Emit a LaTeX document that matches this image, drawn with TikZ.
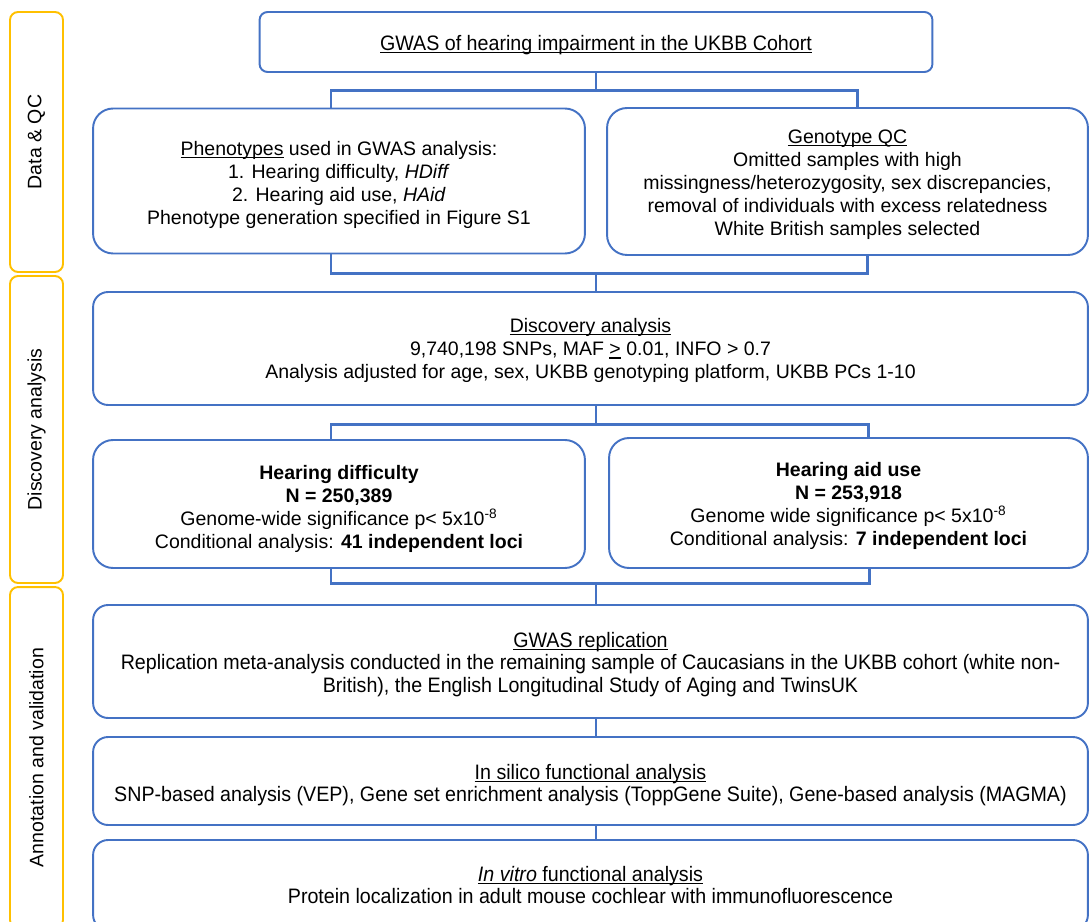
\documentclass[tikz,border=0pt]{standalone}
\usepackage{fontspec}
\setmainfont{Liberation Sans}
\newfontfamily\narrowfont[FakeStretch=0.94]{Liberation Sans}
\usetikzlibrary{positioning}
\definecolor{boxblue}{HTML}{4472C4}
\definecolor{tabgold}{HTML}{FFC000}
\newcommand\ulbase[1]{\setbox0\hbox{#1}\rlap{\rule[-1.6pt]{\wd0}{0.6pt}}\box0\relax}
\newcommand\lift[1]{\rule{0pt}{#1}}

\begin{document}
\begin{tikzpicture}[x=0.02cm,y=-0.02cm,line width=1.1pt]
      \tikzset{
        stage/.style={draw=boxblue,rounded corners=0.4cm,inner sep=0pt,align=center,
            font=\fontsize{11.1}{13.1}\selectfont},
        wide/.style={stage,rounded corners=0.3cm,minimum width=19.9cm},
        narrow/.style={font=\narrowfont\fontsize{11.9}{13}\selectfont},
        tab/.style={draw=tabgold,rounded corners=0.16cm,inner sep=0pt,rotate=90,
            minimum height=1.06cm,font=\fontsize{11.1}{13.1}\selectfont},
        pipe/.style={draw=boxblue,line width=1.7pt}
      }
      \useasboundingbox (0,0) rectangle (1089,922);
      \clip (0,0) rectangle (1089,922);

      \node[tab,minimum width=5.2cm] (tabqc) at (36.5,142) {Data \& QC};
      \node[tab,minimum width=6.14cm] (tabdisc) at (36.5,429.5) {Discovery analysis};
      \node[tab,minimum width=6.82cm] (tabval) at (36.5,757.5) {Annotation and validation};

      \node[stage,narrow,rounded corners=0.16cm,minimum width=13.46cm,minimum height=1.2cm]
        (top) at (596,42) {\lift{12.1pt}\ulbase{GWAS of hearing impairment in the UKBB Cohort}};
      \node[stage,minimum width=9.84cm,minimum height=2.9cm] (phen) at (339,181)
        {\lift{12.2pt}\ulbase{Phenotypes} used in GWAS analysis:\\1. Hearing difficulty, \textit{HDiff}\\
         2. Hearing aid use, \textit{HAid}\\Phenotype generation specified in Figure S1};
      \node[stage,minimum width=9.62cm,minimum height=2.94cm] (geno) at (847.5,181.5)
        {\lift{11.4pt}\ulbase{Genotype QC}\\Omitted samples with high\\
         missingness/heterozygosity, sex discrepancies,\\
         removal of individuals with excess relatedness\\White British samples selected};
      \node[wide,minimum height=2.26cm] (disc) at (590.5,348.5)
        {\lift{10.5pt}\ulbase{Discovery analysis}\\9,740,198 SNPs, MAF \ulbase{>} 0.01, INFO > 0.7\\
         Analysis adjusted for age, sex, UKBB genotyping platform, UKBB PCs 1-10};
      \node[stage,minimum width=9.84cm,minimum height=2.56cm] (hdiff) at (339,504)
        {\lift{13.3pt}\textbf{Hearing difficulty}\\\textbf{N = 250,389}\\
         Genome-wide significance p< 5x10\textsuperscript{-8}\\
         Conditional analysis: \textbf{41 independent loci}};
      \node[stage,minimum width=9.58cm,minimum height=2.6cm] (haid) at (848.5,503)
        {\lift{11.1pt}\textbf{Hearing aid use}\\\textbf{N = 253,918}\\
         Genome wide significance p< 5x10\textsuperscript{-8}\\
         Conditional analysis: \textbf{7 independent loci}};
      \node[wide,narrow,minimum height=2.26cm] (repl) at (590.5,661.5)
        {\lift{12.1pt}\ulbase{GWAS replication}\\Replication meta-analysis conducted in the remaining
         sample of Caucasians in the UKBB cohort (white non-\\
         British), the English Longitudinal Study of Aging and TwinsUK};
      \node[wide,narrow,minimum height=1.76cm] (silico) at (590.5,781)
        {\lift{13.3pt}\ulbase{In silico functional analysis}\\SNP-based analysis (VEP), Gene set enrichment
         analysis (ToppGene Suite), Gene-based analysis (MAGMA)};
      \node[wide,narrow,minimum height=1.8cm] (vitro) at (590.5,885)
        {\ulbase{\textit{In vitro} functional analysis}\\
         Protein localization in adult mouse cochlear with immunofluorescence};

      \path (top.south) ++(0,18) coordinate (b1);
      \draw[pipe] (top.south)--(b1);
      \draw[pipe] ([shift={(-8,0)}]phen.north) |- (b1) -| ([shift={(10,0)}]geno.north);

      \path (phen.south -| b1) ++(0,19) coordinate (b2);
      \draw[pipe] ([shift={(-8,0)}]phen.south) |- (b2) -| ([shift={(20,0)}]geno.south);
      \draw[pipe] (b2)--(b2 |- disc.north);

      \path (disc.south -| b2) ++(0,19) coordinate (b3);
      \draw[pipe] (disc.south -| b3)--(b3);
      \draw[pipe] ([shift={(-8,0)}]hdiff.north) |- (b3) -| ([shift={(20,0)}]haid.north);

      \path (hdiff.south -| b3) ++(0,15) coordinate (b4);
      \draw[pipe] ([shift={(-8,0)}]hdiff.south) |- (b4) -| ([shift={(21,0)}]haid.south);
      \draw[pipe] (b4)--(b4 |- repl.north);
      \draw[pipe] (repl.south -| b4)--(silico.north -| b4);
      \draw[pipe] (silico.south -| b4)--(vitro.north -| b4);
    \end{tikzpicture}
\end{document}
